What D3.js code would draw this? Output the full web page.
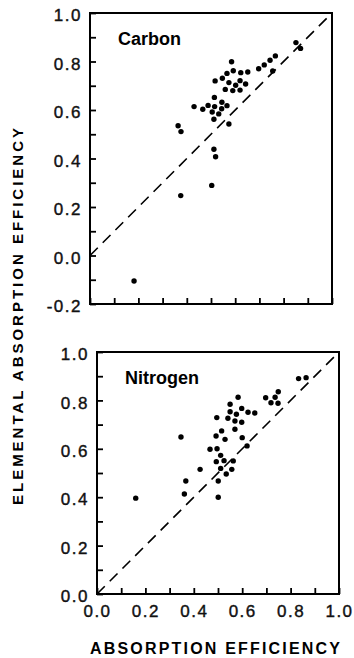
<!DOCTYPE html>
<html>
<head>
<meta charset="utf-8">
<script src="https://cdn.jsdelivr.net/npm/d3@7"></script>
<style>
  body { margin: 0; background: #fff; }
  svg { display: block; font-family: "Liberation Sans", Arial, sans-serif; }
</style>
</head>
<body>
<svg id="chart" width="354" height="658"></svg>
<script>
// values
const carbonX = [0.851, 0.870, 0.766, 0.744, 0.720, 0.697, 0.755, 0.585, 0.592, 0.623,
  0.652, 0.566, 0.547, 0.517, 0.574, 0.620, 0.602, 0.643, 0.559, 0.590,
  0.620, 0.514, 0.430, 0.466, 0.488, 0.515, 0.545, 0.566, 0.505, 0.544,
  0.532, 0.512, 0.574, 0.364, 0.376, 0.512, 0.519, 0.503, 0.375, 0.182];
const carbonY = [0.878, 0.854, 0.823, 0.805, 0.786, 0.770, 0.761, 0.799, 0.762, 0.754,
  0.757, 0.751, 0.731, 0.720, 0.713, 0.721, 0.702, 0.707, 0.685, 0.680,
  0.682, 0.652, 0.614, 0.603, 0.619, 0.614, 0.632, 0.618, 0.592, 0.605,
  0.584, 0.562, 0.542, 0.535, 0.511, 0.438, 0.407, 0.289, 0.247, -0.105];

const nitrogenX = [0.833, 0.864, 0.749, 0.736, 0.697, 0.719, 0.748, 0.583, 0.550, 0.598,
  0.550, 0.576, 0.624, 0.652, 0.495, 0.541, 0.570, 0.598, 0.570, 0.515,
  0.492, 0.529, 0.600, 0.620, 0.467, 0.496, 0.511, 0.493, 0.525, 0.563,
  0.426, 0.511, 0.557, 0.534, 0.501, 0.501, 0.347, 0.367, 0.361, 0.160];
const nitrogenY = [0.890, 0.894, 0.836, 0.813, 0.811, 0.790, 0.788, 0.813, 0.784, 0.767,
  0.753, 0.743, 0.751, 0.748, 0.729, 0.726, 0.715, 0.710, 0.681, 0.674,
  0.653, 0.639, 0.646, 0.612, 0.598, 0.600, 0.573, 0.547, 0.551, 0.550,
  0.515, 0.519, 0.515, 0.496, 0.467, 0.400, 0.649, 0.467, 0.413, 0.396];

const diagonal = [0, 1];                 // 1:1 line
const carbonYTicks = d3.range(-2, 11).map(d => d / 10);
const nitrogenYTicks = d3.range(0, 11).map(d => d / 10);
const xTicks = d3.range(0, 11).map(d => d / 10);

const svg = d3.select('#chart');

function labelEven(d) {
  return Math.round(d * 10) % 2 === 0 ? d.toFixed(1) : '';
}

function drawPanel(opts) {
  let x = d3.scaleLinear().domain([0, 1]).range([opts.left, opts.right]);
  let y = d3.scaleLinear().domain(opts.yDomain).range([opts.bottom, opts.top]);
  let g = svg.append('g');

  // axes, ticks pointing inward
  let yAxis = d3.axisLeft(y)
      .tickValues(opts.yTicks)
      .tickSize(-6)
      .tickSizeOuter(0)
      .tickPadding(8)
      .tickFormat(labelEven);
  let xAxis = d3.axisBottom(x)
      .tickValues(xTicks)
      .tickSize(-6)
      .tickSizeOuter(0)
      .tickPadding(11)
      .tickFormat(opts.xLabels ? labelEven : () => '');

  let gy = g.append('g').attr('transform', `translate(${opts.left},0)`).call(yAxis);
  let gx = g.append('g').attr('transform', `translate(0,${opts.bottom})`).call(xAxis);
  [gy, gx].forEach(a => {
    a.select('.domain').remove();
    a.selectAll('line').attr('stroke', '#000').attr('stroke-width', 1.8);
    a.selectAll('text')
        .attr('fill', '#111')
        .attr('stroke', '#111')
        .attr('stroke-width', 0.4)
        .style('font-size', '17px')
        .style('letter-spacing', '1.5px');
  });
  gy.selectAll('text').attr('dy', '0.45em');

  g.append('rect')
      .attr('x', opts.left)
      .attr('y', opts.top)
      .attr('width', opts.right - opts.left)
      .attr('height', opts.bottom - opts.top)
      .attr('fill', 'none')
      .attr('stroke', '#000')
      .attr('stroke-width', 2);

  g.append('path')
      .datum(diagonal)
      .attr('d', d3.line().x(d => x(d)).y(d => y(d)))
      .attr('stroke', '#000')
      .attr('stroke-width', 1.6)
      .attr('stroke-dasharray', '11,7')
      .attr('fill', 'none');

  g.selectAll('circle')
      .data(opts.xs)
      .join('circle')
      .attr('cx', d => x(d))
      .attr('cy', (d, i) => y(opts.ys[i]))
      .attr('r', 2.7)
      .attr('fill', '#000');

  g.append('text')
      .attr('x', opts.left + 28)
      .attr('y', opts.top + 32)
      .style('font-size', '18px')
      .style('font-weight', 'bold')
      .text(opts.name);
}

drawPanel({
  name: 'Carbon', xs: carbonX, ys: carbonY,
  left: 90, right: 332, top: 13, bottom: 304,
  yDomain: [-0.2, 1], yTicks: carbonYTicks, xLabels: false
});

drawPanel({
  name: 'Nitrogen', xs: nitrogenX, ys: nitrogenY,
  left: 97, right: 339, top: 352, bottom: 594,
  yDomain: [0, 1], yTicks: nitrogenYTicks, xLabels: true
});

svg.append('text')
    .attr('x', 90)
    .attr('y', 654)
    .attr('textLength', 250)
    .style('font-size', '16px')
    .style('font-weight', 'bold')
    .text('ABSORPTION EFFICIENCY');

svg.append('text')
    .attr('transform', 'translate(23,505) rotate(-90)')
    .attr('textLength', 377)
    .style('font-size', '15px')
    .style('font-weight', 'bold')
    .text('ELEMENTAL ABSORPTION EFFICIENCY');
</script>
</body>
</html>
